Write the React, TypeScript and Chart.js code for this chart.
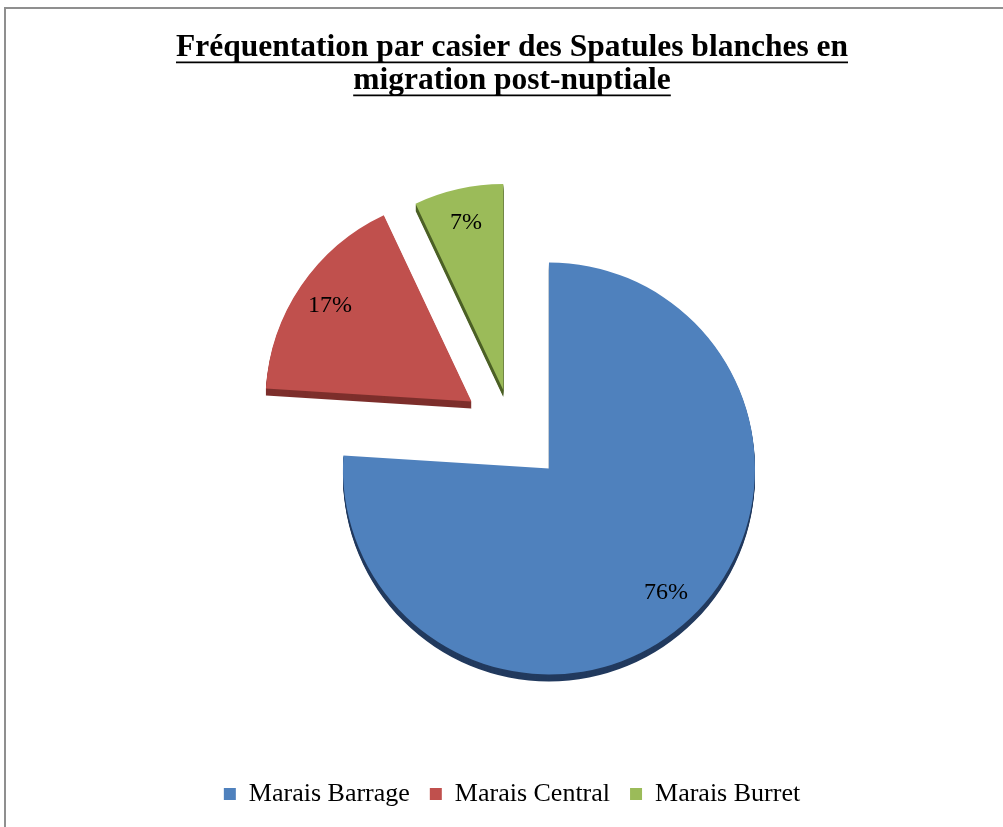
import React, { useEffect, useRef } from 'react';
import { Chart, registerables } from 'chart.js';

Chart.register(...registerables);

const SERIF = '"Liberation Serif", "Times New Roman", serif';

const titleLines = ['Fréquentation par casier des Spatules blanches en', 'migration post-nuptiale'];
const categories = ['Marais Barrage', 'Marais Central', 'Marais Burret'];
const values = [76, 17, 7];

// styling
const colors = ['#4F81BD', '#C0504D', '#9BBB59'];
const sideColors = ['#223A5E', '#7D2F2C', '#4C6026'];
const explode = [54, 49, 40];

const TITLE_SIZE = 31.5;
const TITLE_LH = 1.05;
const DEPTH = 7;

const framePlugin = {
  id: 'frame',
  beforeDraw(chart: any) {
    const ctx = chart.ctx;
    ctx.save();
    ctx.fillStyle = '#ffffff';
    ctx.fillRect(0, 0, chart.width, chart.height);
    ctx.strokeStyle = '#8f8f8f';
    ctx.lineWidth = 2;
    ctx.beginPath();
    ctx.moveTo(5, chart.height + 5);
    ctx.lineTo(5, 8);
    ctx.lineTo(chart.width + 5, 8);
    ctx.stroke();
    ctx.restore();
  },
};

const explodePlugin = {
  id: 'explode',
  afterDatasetUpdate(chart: any, args: any) {
    const meta = chart.getDatasetMeta(args.index);
    meta.data.forEach((arc: any, i: number) => {
      const half = (arc.startAngle + arc.endAngle) / 2;
      arc.x += Math.cos(half) * explode[i];
      arc.y += Math.sin(half) * explode[i];
    });
  },
};

const sidePlugin = {
  id: 'side3d',
  beforeDatasetsDraw(chart: any) {
    const ctx = chart.ctx;
    const meta = chart.getDatasetMeta(0);
    ctx.save();
    meta.data.forEach((arc: any, i: number) => {
      ctx.fillStyle = sideColors[i];
      for (let d = DEPTH; d >= 1; d--) {
        ctx.beginPath();
        ctx.moveTo(arc.x, arc.y + d);
        ctx.arc(arc.x, arc.y + d, arc.outerRadius, arc.startAngle, arc.endAngle);
        ctx.closePath();
        ctx.fill();
      }
    });
    ctx.restore();
  },
};

const labelPlugin = {
  id: 'pctLabels',
  afterDatasetsDraw(chart: any) {
    const ctx = chart.ctx;
    const meta = chart.getDatasetMeta(0);
    ctx.save();
    ctx.font = `24px ${SERIF}`;
    ctx.fillStyle = '#000';
    ctx.textAlign = 'center';
    ctx.textBaseline = 'middle';
    meta.data.forEach((arc: any, i: number) => {
      const half = (arc.startAngle + arc.endAngle) / 2;
      const r = arc.outerRadius * 0.83;
      ctx.fillText(values[i] + '%', arc.x + Math.cos(half) * r, arc.y + Math.sin(half) * r);
    });
    ctx.restore();
  },
};

const underlinePlugin = {
  id: 'titleUnderline',
  afterDraw(chart: any) {
    const tb = chart.titleBlock;
    if (!tb) return;
    const ctx = chart.ctx;
    const pad = tb.options.padding;
    const padTop = typeof pad === 'number' ? pad : pad.top;
    const lh = TITLE_SIZE * TITLE_LH;
    const cx = (tb.left + tb.right) / 2;
    ctx.save();
    ctx.font = `bold ${TITLE_SIZE}px ${SERIF}`;
    ctx.strokeStyle = '#000';
    ctx.lineWidth = 1.6;
    titleLines.forEach((line, i) => {
      const mid = tb.top + padTop + lh / 2 + i * lh;
      const w = ctx.measureText(line).width;
      const y = mid + TITLE_SIZE * 0.47;
      ctx.beginPath();
      ctx.moveTo(cx - w / 2, y);
      ctx.lineTo(cx + w / 2, y);
      ctx.stroke();
    });
    ctx.restore();
  },
};

export default function App() {
  const ref = useRef<HTMLCanvasElement>(null);
  useEffect(() => {
    const canvas = ref.current!;
    const chart = new Chart(canvas, {
      type: 'pie',
      data: {
        labels: categories,
        datasets: [
          {
            data: values,
            backgroundColor: colors,
            borderWidth: 0,
            hoverOffset: 0,
          },
        ],
      },
      options: {
        responsive: false,
        animation: false,
        devicePixelRatio: 1,
        radius: 206,
        layout: { padding: { left: 24, right: 3, top: 12, bottom: 10 } },
        plugins: {
          title: {
            display: true,
            text: titleLines,
            color: '#000',
            font: { family: SERIF, size: TITLE_SIZE, weight: 'bold', lineHeight: TITLE_LH },
            padding: { top: 19, bottom: 0 },
          },
          legend: {
            position: 'bottom',
            labels: {
              boxWidth: 12,
              boxHeight: 12,
              color: '#000',
              font: { family: SERIF, size: 26 },
              padding: 20,
            },
          },
          tooltip: { enabled: false },
        },
      } as any,
      plugins: [framePlugin, explodePlugin, sidePlugin, labelPlugin, underlinePlugin],
    });
    return () => chart.destroy();
  }, []);
  return (
    <div
      style={{
        position: 'absolute',
        left: 0,
        top: 0,
        width: 1003,
        height: 827,
        overflow: 'hidden',
        background: '#fff',
      }}
    >
      <canvas ref={ref} width={1003} height={827} style={{ display: 'block' }} />
    </div>
  );
}
